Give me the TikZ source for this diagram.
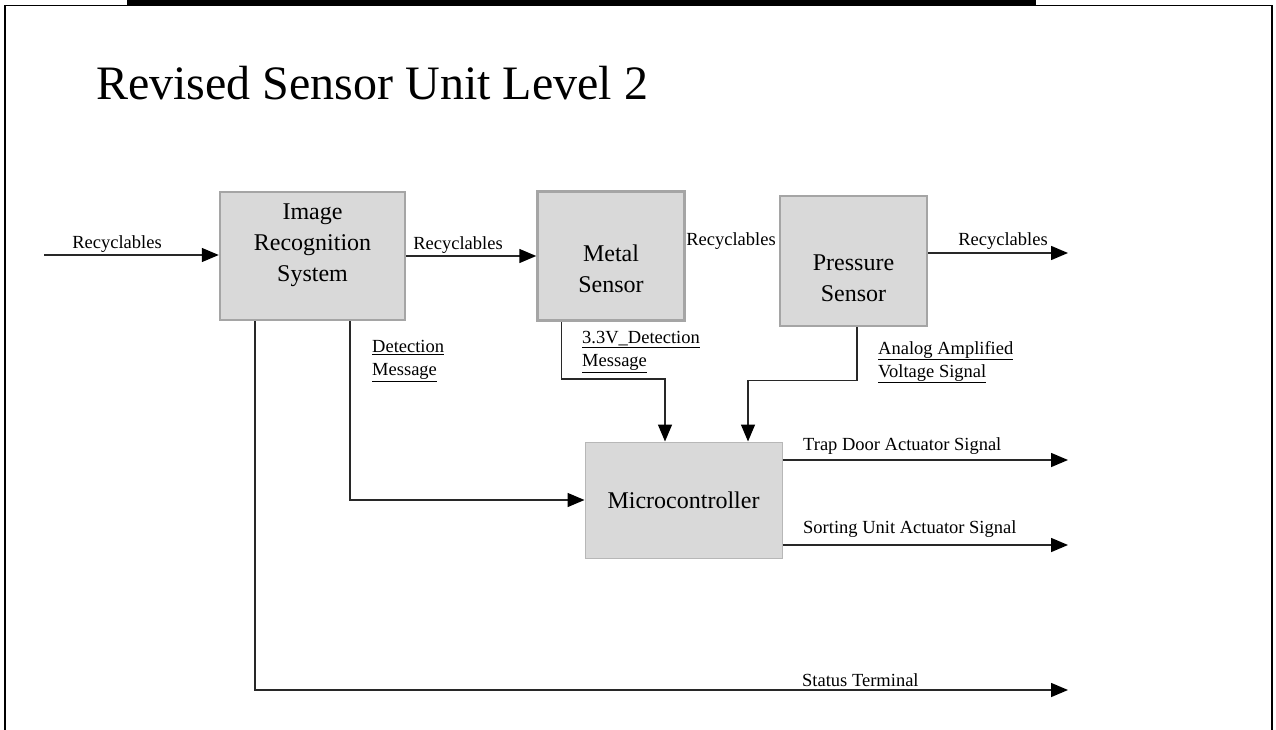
\documentclass[tikz,border=0pt]{standalone}
\usepackage{fontspec}
\setmainfont{Liberation Serif}
\usetikzlibrary{arrows.meta,positioning,calc}
\definecolor{boxfill}{RGB}{217,217,217}
\definecolor{boxline}{RGB}{165,165,165}
\definecolor{linecol}{RGB}{40,40,40}

\begin{document}
\begin{tikzpicture}[
x=1pt, y=-1pt,
box/.style={rectangle, draw=boxline, line width=2.5pt, fill=boxfill, inner sep=0pt},
boxtxt/.style={align=center, font=\fontsize{24}{31}\selectfont, inner sep=0pt},
lbl/.style={font=\fontsize{18.5}{23}\selectfont, inner sep=0pt, align=left},
flow/.style={draw=linecol, line width=1.5pt, -{Triangle[length=17pt,width=14pt,color=black]}}
]
\useasboundingbox (0,0) rectangle (1276,730);
% page frame and the cut caption above it
\fill (127,0.5) rectangle (1036,5);
\draw[line width=1.8pt] (5,730) -- (5,5.5) -- (1272,5.5) -- (1272,730);
\node[anchor=base west, font=\fontsize{48}{48}\selectfont, inner sep=0pt] (title) at (96,100) {Revised Sensor Unit Level 2};

% blocks
\node[box, minimum width=185pt, minimum height=128pt] (irs) at (312.5,256) {};
\node[boxtxt] (irstxt) at (312.5,245) {Image\\Recognition\\System};
\node[box, minimum width=147pt, minimum height=129pt, right=130pt of irs] (metal) {};
\node[boxtxt] (metaltxt) at ($(metal)+(0,13)$) {Metal\\Sensor};
\node[box, minimum width=147pt, minimum height=130pt] (press) at (853.5,261) {};
\node[boxtxt] (presstxt) at ($(press)+(0,17)$) {Pressure\\Sensor};
\node[box, draw=boxline!80, line width=1pt, minimum width=197pt, minimum height=116pt, font=\fontsize{24}{31}\selectfont] (micro) at (683.5,500) {Microcontroller};

% free ends
\coordinate (src) at (44,255);
\coordinate (outR) at (1068,253);
\coordinate (trap) at (1068,460);
\coordinate (sort) at (1068,545);
\coordinate (stat) at (1068,690);

% connectors
\draw[flow] (src) -- (src -| irs.west);
\draw[flow] (irs.east) -- (metal.west);
\draw[flow] (press.east |- outR) -- (outR);
\draw[flow] ([xshift=-57.5pt]irs.south) |- (stat);
\draw[flow] ([xshift=37.5pt]irs.south) |- (micro.west);
\draw[flow] ([xshift=-49.5pt]metal.south) -- ++(0,57) -| ([xshift=-18.5pt]micro.north);
\draw[flow] ([xshift=3.5pt]press.south) -- ++(0,53) -| ([xshift=64.5pt]micro.north);
\draw[flow] (micro.east |- trap) -- (trap);
\draw[flow] (micro.east |- sort) -- (sort);

% labels
\node[lbl] (lin) at (117,244) {Recyclables};
\node[lbl] (lirs) at (458,245) {Recyclables};
\node[lbl] (lmetal) at (731,241) {Recyclables};
\node[lbl] (lout) at (1003,241) {Recyclables};
\node[lbl, anchor=north west] (ldet) at (372,340) {\underline{Detection}\\\underline{Message}};
\node[lbl, anchor=north west] (lvolt) at (582,331) {\underline{3.3V\_Detection}\\\underline{Message}};
\node[lbl, anchor=north west] (lanalog) at (878,341) {\underline{Analog Amplified}\\\underline{Voltage Signal}};
\node[lbl, anchor=west] (ltrap) at (803,446) {Trap Door Actuator Signal};
\node[lbl, anchor=west] (lsort) at (803,529) {Sorting Unit Actuator Signal};
\node[lbl, anchor=west] (lstat) at (802,680) {Status Terminal};
\end{tikzpicture}
\end{document}
